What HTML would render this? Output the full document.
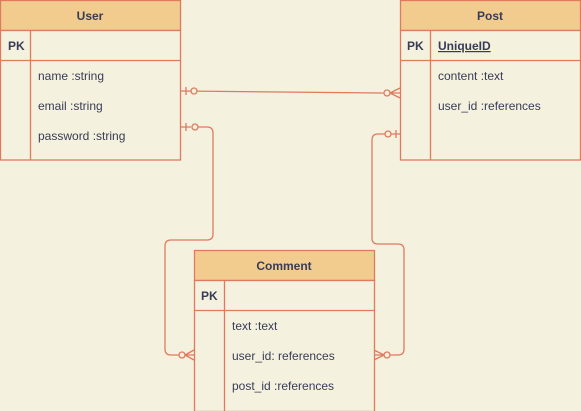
<html><body style="margin:0;background:#f4f1de">
<svg width="581" height="411" xmlns="http://www.w3.org/2000/svg" style="display:block;font-family:'Liberation Sans',Helvetica,sans-serif">
<rect width="581" height="411" fill="#f4f1de"/>
<g stroke="#e07a5f" fill="none" stroke-width="1.3">
<path d="M181,91 L384,93"/>
<path d="M186,87v8"/><circle cx="194" cy="91" r="3" fill="#f4f1de"/>
<circle cx="387" cy="93" r="3" fill="#f4f1de"/><path d="M390,93 L400,88 M390,93 L400,98 M390,93h10"/>
<path d="M198,127 H207 Q213,127 213,133 V234 Q213,240 207,240 H171 Q165,240 165,246 V349 Q165,355 171,355 H179"/>
<path d="M186,123v8 M181,127h10"/><circle cx="195" cy="127" r="3" fill="#f4f1de"/>
<circle cx="182" cy="355" r="3" fill="#f4f1de"/><path d="M185,355 L194,350 M185,355 L194,360 M185,355h9"/>
<path d="M385,134 H378 Q372,134 372,140 V238 Q372,244 378,244 H398 Q404,244 404,250 V349 Q404,355 398,355 H390"/>
<path d="M396,130v8 M391,134h9"/><circle cx="388" cy="134" r="3" fill="#f4f1de"/>
<circle cx="387" cy="355" r="3" fill="#f4f1de"/><path d="M384,355 L374,350 M384,355 L374,360 M384,355h-10"/>
</g>
<g stroke="#e07a5f" stroke-width="1.3">
<rect x="0.5" y="0.5" width="180" height="30" fill="#f2cc8f"/>
<rect x="0.5" y="30.5" width="180" height="129.5" fill="#f4f1de"/>
<path d="M0.5,60.5h180 M30.5,30.5V160"/>
<rect x="400.5" y="0.5" width="180" height="30" fill="#f2cc8f"/>
<rect x="400.5" y="30.5" width="180" height="129.5" fill="#f4f1de"/>
<path d="M400.5,60.5h180 M430.5,30.5V160"/>
<rect x="194.5" y="250.5" width="180" height="30" fill="#f2cc8f"/>
<rect x="194.5" y="280.5" width="180" height="131" fill="#f4f1de"/>
<path d="M194.5,310.5h180 M224.5,280.5V411"/>
</g>
<g fill="#393c56" font-size="12">
<text x="90" y="20" text-anchor="middle" font-weight="bold">User</text>
<text x="8" y="50" font-weight="bold">PK</text>
<text x="38" y="80">name :string</text>
<text x="38" y="110">email :string</text>
<text x="38" y="140">password :string</text>
<text x="490" y="20" text-anchor="middle" font-weight="bold">Post</text>
<text x="407" y="50" font-weight="bold">PK</text>
<text x="438" y="50" font-weight="bold" text-decoration="underline">UniqueID</text>
<text x="438" y="80">content :text</text>
<text x="438" y="110">user_id :references</text>
<text x="284" y="270" text-anchor="middle" font-weight="bold">Comment</text>
<text x="201" y="300" font-weight="bold">PK</text>
<text x="232" y="330">text :text</text>
<text x="232" y="360">user_id: references</text>
<text x="232" y="390">post_id :references</text>
</g>
</svg>
</body></html>
